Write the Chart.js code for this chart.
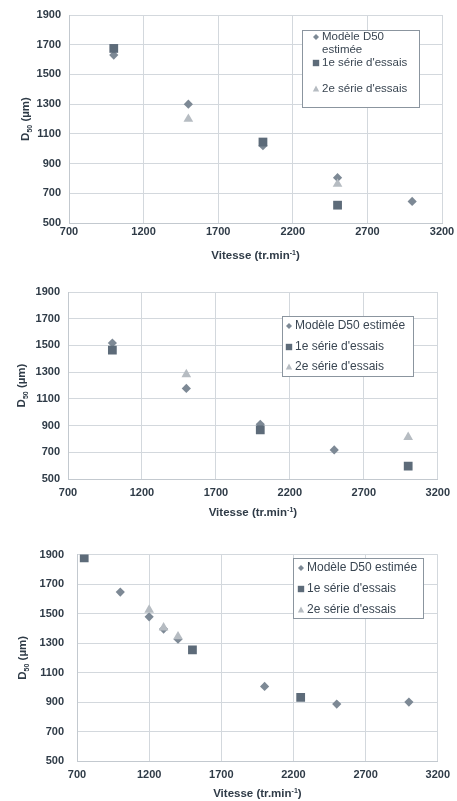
<!DOCTYPE html>
<html>
<head>
<meta charset="utf-8">
<script src="https://cdn.jsdelivr.net/npm/chart.js@4.4.1/dist/chart.umd.min.js"></script>
<style>
  html, body { margin: 0; padding: 0; background: #ffffff; }
  body { width: 457px; height: 801px; position: relative; overflow: hidden; }
  .panel { position: absolute; left: 0; width: 457px; }
  .panel canvas { display: block; }
</style>
</head>
<body>
<div class="panel" style="top:0px;height:268px"><canvas id="c1" width="457" height="268"></canvas></div>
<div class="panel" style="top:268px;height:267px"><canvas id="c2" width="457" height="267"></canvas></div>
<div class="panel" style="top:535px;height:266px"><canvas id="c3" width="457" height="266"></canvas></div>
<script>
// Series names shown in each legend
const seriesNames = ['Modèle D50 estimée', "1e série d'essais", "2e série d'essais"];

// Axis ranges (rotation speed in tr/min, D50 in µm)
const speedMin = 700, speedMax = 3200, speedStep = 500;
const d50Min = 500, d50Max = 1900, d50Step = 200;

// Panel 1
const p1ModelSpeed  = [1000, 1500, 2000, 2500, 3000];
const p1ModelD50    = [1630, 1300, 1020, 805, 645];
const p1Serie1Speed = [1000, 2000, 2500];
const p1Serie1D50   = [1675, 1045, 620];
const p1Serie2Speed = [1500, 2500];
const p1Serie2D50   = [1200, 762];

// Panel 2
const p2ModelSpeed  = [1000, 1500, 2000, 2500];
const p2ModelD50    = [1518, 1178, 910, 718];
const p2Serie1Speed = [1000, 2000, 3000];
const p2Serie1D50   = [1465, 867, 597];
const p2Serie2Speed = [1500, 3000];
const p2Serie2D50   = [1283, 813];

// Panel 3
const p3ModelSpeed  = [1000, 1200, 1300, 1400, 2000, 2500, 3000];
const p3ModelD50    = [1646, 1478, 1395, 1326, 1006, 886, 900];
const p3Serie1Speed = [750, 1500, 2250];
const p3Serie1D50   = [1878, 1254, 932];
const p3Serie2Speed = [1200, 1300, 1400];
const p3Serie2D50   = [1525, 1405, 1344];

const TEXT = '#2f3b47';
const GRID = '#d3d8dd';
const FONT = '"Liberation Sans", Arial, sans-serif';
const COL_MODEL = '#7d8995';
const COL_S1 = '#5d6b79';
const COL_S2 = '#b6bcc2';

function pts(xs, ys) { return xs.map((x, i) => ({ x: x, y: ys[i] })); }
function plain(v) { return String(v); }

function drawMarker(ctx, kind, x, y, s) {
  ctx.beginPath();
  if (kind === 0) {
    ctx.moveTo(x - s, y); ctx.lineTo(x, y - s); ctx.lineTo(x + s, y); ctx.lineTo(x, y + s);
    ctx.fillStyle = COL_MODEL;
  } else if (kind === 1) {
    ctx.rect(x - s, y - s, 2 * s, 2 * s);
    ctx.fillStyle = COL_S1;
  } else {
    ctx.moveTo(x, y - s * 1.1); ctx.lineTo(x + s, y + s * 0.8); ctx.lineTo(x - s, y + s * 0.8);
    ctx.fillStyle = COL_S2;
  }
  ctx.closePath();
  ctx.fill();
}

// Axis titles (with sub/superscripts) and the framed legend
const decorations = {
  id: 'decorations',
  afterDraw(chart, args, o) {
    const ctx = chart.ctx;
    const a = chart.chartArea;
    ctx.save();
    ctx.fillStyle = TEXT;
    ctx.textBaseline = 'alphabetic';

    // Y title: D50 (µm), rotated
    const big = 'bold 11.5px ' + FONT, small = 'bold 7px ' + FONT;
    ctx.font = big; const wD = ctx.measureText('D').width; const wRest = ctx.measureText(' (µm)').width;
    ctx.font = small; const w50 = ctx.measureText('50').width;
    const totY = wD + w50 + wRest;
    ctx.translate(o.yTitleX, (a.top + a.bottom) / 2);
    ctx.rotate(-Math.PI / 2);
    let cx = -totY / 2;
    ctx.font = big; ctx.textAlign = 'left';
    ctx.fillText('D', cx, 4); cx += wD;
    ctx.font = small; ctx.fillText('50', cx, 7); cx += w50;
    ctx.font = big; ctx.fillText(' (µm)', cx, 4);
    ctx.setTransform(1, 0, 0, 1, 0, 0);

    // X title: Vitesse (tr.min-1)
    ctx.font = big; const wA = ctx.measureText('Vitesse (tr.min').width; const wC = ctx.measureText(')').width;
    ctx.font = small; const wB = ctx.measureText('-1').width;
    let sx = (a.left + a.right) / 2 - (wA + wB + wC) / 2;
    const by = o.xTitleY + 4;
    ctx.font = big; ctx.fillText('Vitesse (tr.min', sx, by); sx += wA;
    ctx.font = small; ctx.fillText('-1', sx, by - 4); sx += wB;
    ctx.font = big; ctx.fillText(')', sx, by);

    // Legend
    const L = o.legend;
    ctx.fillStyle = '#ffffff';
    ctx.fillRect(L.x, L.y, L.w, L.h);
    ctx.strokeStyle = '#8b959f';
    ctx.lineWidth = 1;
    ctx.strokeRect(L.x + 0.5, L.y + 0.5, L.w, L.h);
    ctx.font = L.font + 'px ' + FONT;
    ctx.textBaseline = 'middle';
    L.rows.forEach((r, i) => {
      drawMarker(ctx, i, L.markerX, r.y, i === 0 ? 3 : 3.2);
      ctx.fillStyle = '#3a4652';
      r.lines.forEach((t, k) => ctx.fillText(t, L.textX, r.y + k * 13));
    });
    ctx.restore();
  }
};

function makeChart(id, data, lay) {
  const datasets = [
    { label: seriesNames[0], data: pts(data[0], data[1]), pointStyle: 'rectRot', pointRadius: 4.6,
      backgroundColor: COL_MODEL, borderColor: COL_MODEL, borderWidth: 0, order: 3 },
    { label: seriesNames[1], data: pts(data[2], data[3]), pointStyle: 'rect', pointRadius: 6.2,
      backgroundColor: COL_S1, borderColor: COL_S1, borderWidth: 0, order: 2 },
    { label: seriesNames[2], data: pts(data[4], data[5]), pointStyle: 'triangle', pointRadius: 5.6,
      backgroundColor: COL_S2, borderColor: COL_S2, borderWidth: 0, order: 1 }
  ];
  return new Chart(document.getElementById(id), {
    type: 'scatter',
    data: { datasets: datasets },
    options: {
      responsive: false,
      animation: false,
      events: [],
      layout: { padding: { left: 0, right: lay.right, top: lay.top, bottom: 0 } },
      plugins: {
        legend: { display: false },
        tooltip: { enabled: false },
        decorations: { yTitleX: lay.yTitleX, xTitleY: lay.xTitleY, legend: lay.legend }
      },
      scales: {
        x: {
          type: 'linear', min: speedMin, max: speedMax,
          ticks: { stepSize: speedStep, color: TEXT, font: { family: FONT, size: 11, weight: 'bold' },
                   padding: lay.xPad, maxRotation: 0, autoSkip: false, callback: plain },
          grid: { color: GRID, lineWidth: 1, drawTicks: false },
          border: { color: '#c3c9cf', width: 1 },
          afterFit(s) { s.height = lay.xAxisH; }
        },
        y: {
          type: 'linear', min: d50Min, max: d50Max,
          ticks: { stepSize: d50Step, color: TEXT, font: { family: FONT, size: 11, weight: 'bold' },
                   padding: lay.yPad, autoSkip: false, callback: plain },
          grid: { color: GRID, lineWidth: 1, drawTicks: false },
          border: { color: '#c3c9cf', width: 1 },
          afterFit(s) { s.width = lay.yAxisW; }
        }
      }
    },
    plugins: [decorations]
  });
}

makeChart('c1', [p1ModelSpeed, p1ModelD50, p1Serie1Speed, p1Serie1D50, p1Serie2Speed, p1Serie2D50], {
  top: 15, right: 15, yAxisW: 69, xAxisH: 45, xPad: 2, yPad: 8, yTitleX: 25, xTitleY: 255,
  legend: { x: 302, y: 30, w: 117, h: 77, markerX: 316, textX: 322, font: 11.5,
            rows: [{ y: 37, lines: ['Modèle D50', 'estimée'] }, { y: 63, lines: [seriesNames[1]] }, { y: 89, lines: [seriesNames[2]] }] }
});

makeChart('c2', [p2ModelSpeed, p2ModelD50, p2Serie1Speed, p2Serie1D50, p2Serie2Speed, p2Serie2D50], {
  top: 24, right: 15, yAxisW: 68, xAxisH: 56, xPad: 7, yPad: 8, yTitleX: 21, xTitleY: 244,
  legend: { x: 282, y: 48, w: 131, h: 60, markerX: 289, textX: 295, font: 12,
            rows: [{ y: 58, lines: [seriesNames[0]] }, { y: 79, lines: [seriesNames[1]] }, { y: 99, lines: [seriesNames[2]] }] }
});

makeChart('c3', [p3ModelSpeed, p3ModelD50, p3Serie1Speed, p3Serie1D50, p3Serie2Speed, p3Serie2D50], {
  top: 14, right: 14, yAxisW: 77, xAxisH: 40, xPad: 7, yPad: 13, yTitleX: 22, xTitleY: 258,
  legend: { x: 293, y: 23, w: 130, h: 60, markerX: 301, textX: 307, font: 12,
            rows: [{ y: 33, lines: [seriesNames[0]] }, { y: 54, lines: [seriesNames[1]] }, { y: 75, lines: [seriesNames[2]] }] }
});
</script>
</body>
</html>
